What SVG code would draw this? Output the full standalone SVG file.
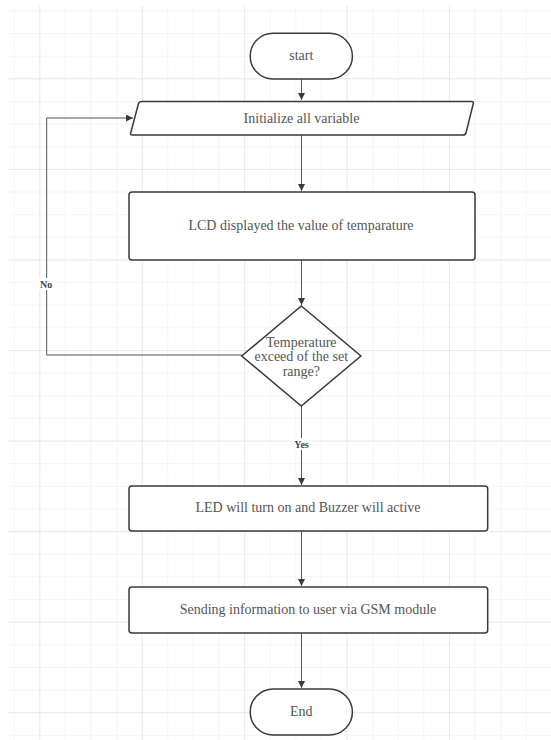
<svg xmlns="http://www.w3.org/2000/svg" width="551" height="740" viewBox="0 0 551 740">
<defs>
<pattern id="minor" x="13.7" y="10.4" width="25.6" height="22.64" patternUnits="userSpaceOnUse">
<path d="M0 0V22.64M0 0H25.6" fill="none" stroke="#ececec" stroke-width="1"/>
</pattern>
<pattern id="major" x="39.3" y="-12.2" width="102.4" height="90.56" patternUnits="userSpaceOnUse">
<path d="M0 0V90.56M0 0H102.4" fill="none" stroke="#dedede" stroke-width="1"/>
</pattern>
<marker id="arr" viewBox="0 0 10 10" refX="10" refY="5" markerWidth="7" markerHeight="7" markerUnits="userSpaceOnUse" orient="auto">
<path d="M0 0L10 5L0 10z" fill="#3a3a3a"/>
</marker>
</defs>
<style>
.node{fill:#fff;stroke:#3a3a3a;stroke-width:1.5}
.t{font-family:"Liberation Serif","Times New Roman",serif;font-size:14px;fill:#555;text-anchor:middle}
.lbl{font-family:"Liberation Serif","Times New Roman",serif;font-size:10px;font-weight:bold;fill:#444;text-anchor:middle}
.c{fill:none;stroke:#555;stroke-width:1;marker-end:url(#arr)}
</style>
<rect width="551" height="740" fill="#fff"/>
<rect x="8" y="6" width="543" height="734" fill="url(#minor)"/>
<rect x="8" y="6" width="543" height="734" fill="url(#major)"/>
<g id="connectors">
<path class="c" d="M301.5 79V100"/>
<path class="c" d="M301.5 135V191"/>
<path class="c" d="M301.5 260V305"/>
<path class="c" d="M241.7 355H46.7V118H133"/>
<path class="c" d="M301.5 406V485"/>
<path class="c" d="M301.5 531V586"/>
<path class="c" d="M301.5 633V688"/>
<rect x="38" y="278" width="17" height="12" fill="#fff"/>
<text class="lbl" x="46.2" y="287.5">No</text>
<rect x="292" y="438" width="19" height="12" fill="#fff"/>
<text class="lbl" x="301.5" y="447.5">Yes</text>
</g>
<g id="start">
<rect class="node" x="250.2" y="33.3" width="102.2" height="45.7" rx="22.8"/>
<text class="t" x="301.3" y="60">start</text>
</g>
<g id="init">
<path class="node" d="M142 101.5H471.5Q474 101.5 473.3 103.5L466 133Q465.5 135 463 135H132.5Q130 135 130.7 133L138.5 103.5Q139 101.5 142 101.5Z"/>
<text class="t" x="301.5" y="122.5">Initialize all variable</text>
</g>
<g id="lcd">
<rect class="node" x="129" y="192" width="346" height="68" rx="3"/>
<text class="t" x="301" y="230">LCD displayed the value of temparature</text>
</g>
<g id="decision">
<path class="node" d="M301.3 306L360.9 356L301.3 406L241.7 356Z"/>
<text class="t" x="301.3" y="346.5">Temperature</text>
<text class="t" x="301.3" y="361">exceed of the set</text>
<text class="t" x="301.3" y="376">range?</text>
</g>
<g id="led">
<rect class="node" x="129" y="486" width="358.7" height="45" rx="3"/>
<text class="t" x="308" y="512">LED will turn on and Buzzer will active</text>
</g>
<g id="gsm">
<rect class="node" x="129" y="587" width="358.7" height="46" rx="3"/>
<text class="t" x="308" y="614">Sending information to user via GSM module</text>
</g>
<g id="end">
<rect class="node" x="250.2" y="689" width="102.2" height="46" rx="23"/>
<text class="t" x="301.3" y="716">End</text>
</g>
</svg>
